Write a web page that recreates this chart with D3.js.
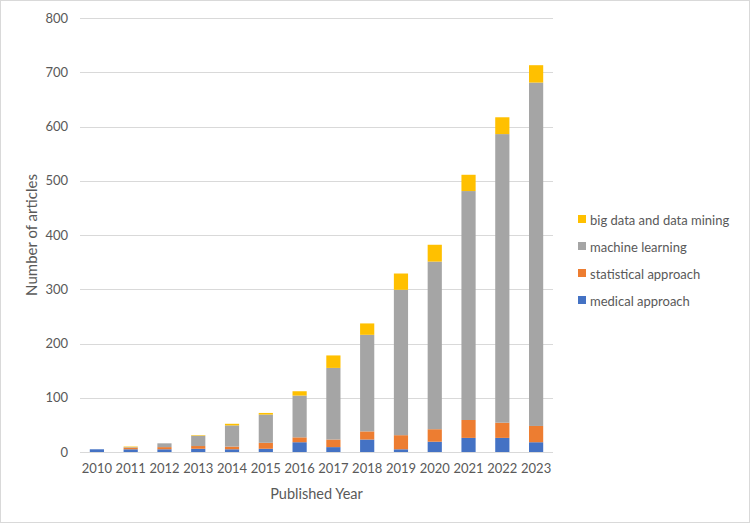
<!DOCTYPE html>
<html><head><meta charset="utf-8">
<script src="https://cdn.jsdelivr.net/npm/d3@7"></script>
<style>body{margin:0;background:#fff}svg{display:block}</style>
</head><body>
<script>
const years = ["2010","2011","2012","2013","2014","2015","2016","2017","2018","2019","2020","2021","2022","2023"];
const medical = [5,5,5,6,5,6,18,9,23,5,19,26,26,18];
const statistical = [0,3,4,5,5,11,9,14,15,26,23,33,28,30];
const machineLearning = [0,1,7,19,39,52,77,132,178,268,309,422,532,633];
const bigData = [0,1,0,1,3,3,8,23,21,30,31,30,31,32];
const seriesNames = ["medical approach","statistical approach","machine learning","big data and data mining"];
const colors = ["#4472C4","#ED7D31","#A5A5A5","#FFC000"];
const yTicks = [0,100,200,300,400,500,600,700,800];

(function(){
const W = 750, H = 523;
const font = "Lato, 'Open Sans', sans-serif";
const svg = d3.select("body").append("svg").attr("width", W).attr("height", H);
svg.append("rect").attr("x",0.5).attr("y",0.5).attr("width",W-1).attr("height",H-1)
  .attr("fill","#fff").attr("stroke","#D9D9D9");

const mLeft = 80, mRight = 553, mTop = 18, mBottom = 452;
const x = d3.scaleBand().domain(years).range([mLeft, mRight]).paddingInner(0.58).paddingOuter(0.29);
const y = d3.scaleLinear().domain([0, 800]).range([mBottom, mTop]);

const table = years.map((yr, i) => ({year: yr, s0: medical[i], s1: statistical[i], s2: machineLearning[i], s3: bigData[i]}));
const stack = d3.stack().keys(["s0","s1","s2","s3"])(table);

svg.append("g").selectAll("line").data(yTicks).join("line")
  .attr("x1", mLeft).attr("x2", mRight)
  .attr("y1", d => Math.round(y(d)) + 0.5).attr("y2", d => Math.round(y(d)) + 0.5)
  .attr("stroke", "#D9D9D9").attr("stroke-width", 1);

svg.append("g").selectAll("g").data(stack).join("g")
  .attr("fill", (d, i) => colors[i])
  .selectAll("rect").data(d => d).join("rect")
  .attr("x", d => x(d.data.year))
  .attr("width", x.bandwidth())
  .attr("y", d => y(d[1]))
  .attr("height", d => y(d[0]) - y(d[1]));

const yAxis = d3.axisLeft(y).tickValues(yTicks).tickSize(0).tickPadding(12);
const gy = svg.append("g").attr("transform", `translate(${mLeft},0)`).call(yAxis);
gy.select(".domain").remove();
gy.selectAll("text").attr("fill","#595959").style("font-family", font).style("font-size","13px");

const xAxis = d3.axisBottom(x).tickSize(0).tickPadding(12);
const gx = svg.append("g").attr("transform", `translate(0,${mBottom})`).call(xAxis);
gx.select(".domain").remove();
gx.selectAll("text").attr("fill","#595959").style("font-family", font).style("font-size","13px");

svg.append("text").attr("x", (mLeft + mRight) / 2).attr("y", 499).attr("text-anchor","middle")
  .attr("fill","#595959").style("font-family", font).style("font-size","14.5px").text("Published Year");
svg.append("text").attr("transform", `translate(37,${(mTop + mBottom) / 2}) rotate(-90)`).attr("text-anchor","middle")
  .attr("fill","#595959").style("font-family", font).style("font-size","15px").text("Number of articles");

const legendItems = seriesNames.map((n, i) => ({name: n, color: colors[i]})).reverse();
const lg = svg.append("g").selectAll("g").data(legendItems).join("g")
  .attr("transform", (d, i) => `translate(578,${220 + i * 27})`);
lg.append("rect").attr("x",0).attr("y",-5).attr("width",8).attr("height",8).attr("fill", d => d.color);
lg.append("text").attr("x",12).attr("y",0).attr("dy","0.35em").attr("fill","#595959")
  .style("font-family", font).style("font-size","13px").text(d => d.name);
})();
</script>
</body></html>
